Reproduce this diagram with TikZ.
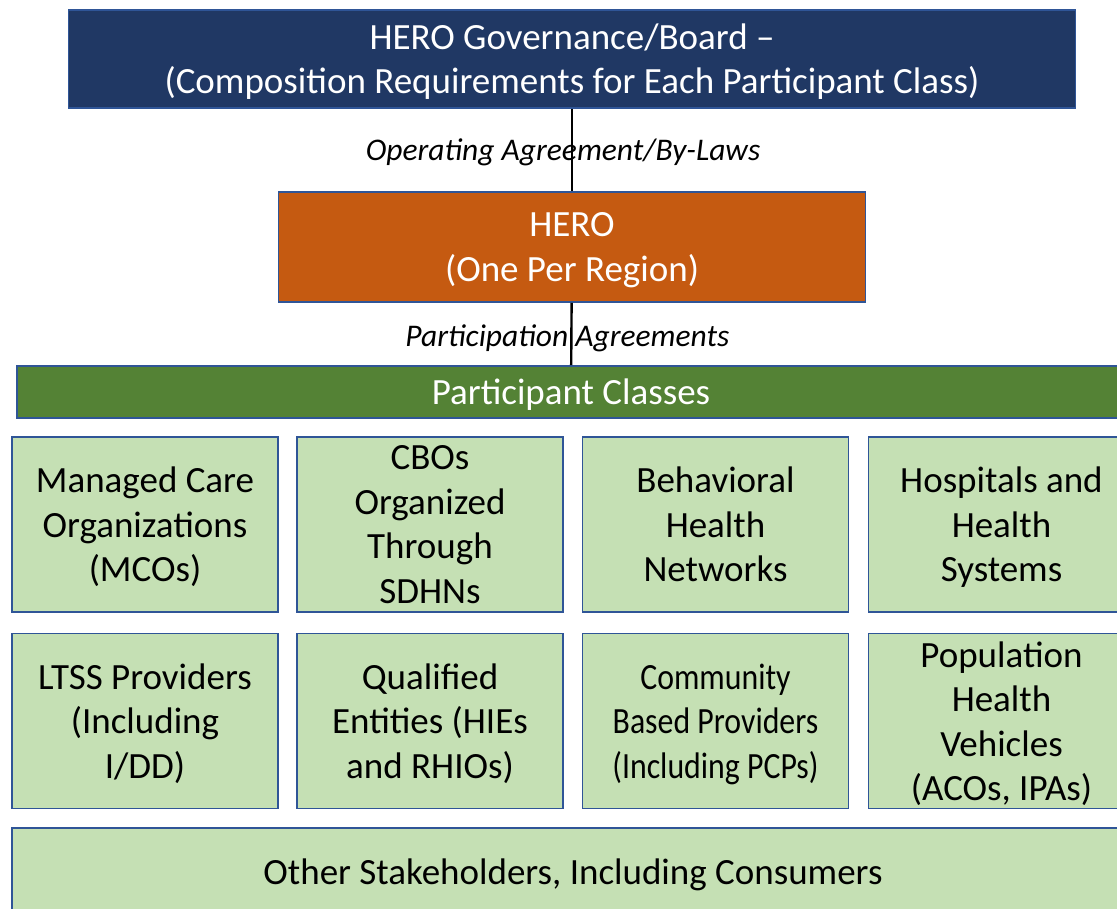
\documentclass[tikz,border=0pt]{standalone}
\usepackage{fontspec}
\setmainfont{Carlito}
\newfontfamily\narrowfont[FakeStretch=0.86]{Carlito}
\definecolor{boardblue}{HTML}{203864}
\definecolor{edgeblue}{HTML}{2F5597}
\definecolor{heroorange}{HTML}{C55A11}
\definecolor{classgreen}{HTML}{548235}
\definecolor{palegreen}{HTML}{C5E0B4}

\begin{document}
\begin{tikzpicture}[x=1pt,y=-1pt]
        \tikzstyle{every node}=[draw=edgeblue, line width=1.6pt, align=center, inner sep=0pt, text depth=0pt]
        \tikzstyle{classbox}=[fill=palegreen, text=black, minimum width=266pt, minimum height=175pt, font=\fontsize{37}{44.5}\selectfont]
        \tikzstyle{agreement}=[draw=none, font=\fontsize{31.5}{36}\selectfont\itshape]

        \useasboundingbox (0,0) rectangle (1117,909);
        \clip (0,0) rectangle (1117,909);

        \node[fill=boardblue, text=white, minimum width=1007pt, minimum height=98pt, font=\fontsize{37}{44}\selectfont](board) at (572,59){HERO Governance/Board --\\(Composition Requirements for Each Participant Class)};
        \node[fill=heroorange, text=white, minimum width=587pt, minimum height=110pt, font=\fontsize{37}{45}\selectfont](hero) at (572,247){HERO\\(One Per Region)};
        \node[fill=classgreen, text=white, minimum width=1108pt, minimum height=52pt, font=\fontsize{37}{40}\selectfont](classes) at (571,392){Participant Classes};

        \draw[line width=2.4pt] (board) -- node[agreement, xshift=-9pt]{Operating Agreement/By-Laws} (hero);
        \draw[line width=2.4pt] (hero) -- node[agreement, xshift=-4pt, yshift=-2pt]{Participation Agreements} (classes);

        % first row
        \node[classbox](mco) at (145,524.5){Managed Care\\Organizations\\(MCOs)};
        \node[classbox](cbo) at (430,524.5){CBOs\\Organized\\Through\\SDHNs};
        \node[classbox](bhn) at (715.5,524.5){Behavioral\\Health\\Networks};
        \node[classbox](hosp) at (1001.5,524.5){Hospitals and\\Health\\Systems};

        % second row
        \node[classbox](ltss) at (145,721){LTSS Providers\\(Including\\I/DD)};
        \node[classbox](qe) at (430,721){Qualified\\Entities (HIEs\\and RHIOs)};
        \node[classbox, font=\fontsize{37}{44.5}\narrowfont](cbp) at (715.5,721){Community\\Based Providers\\(Including PCPs)};
        \node[classbox](phv) at (1001.5,721){Population\\Health\\Vehicles\\(ACOs, IPAs)};

        \node[classbox, minimum width=1122pt, minimum height=88pt](other) at (573,872){Other Stakeholders, Including Consumers};
    \end{tikzpicture}
\end{document}
